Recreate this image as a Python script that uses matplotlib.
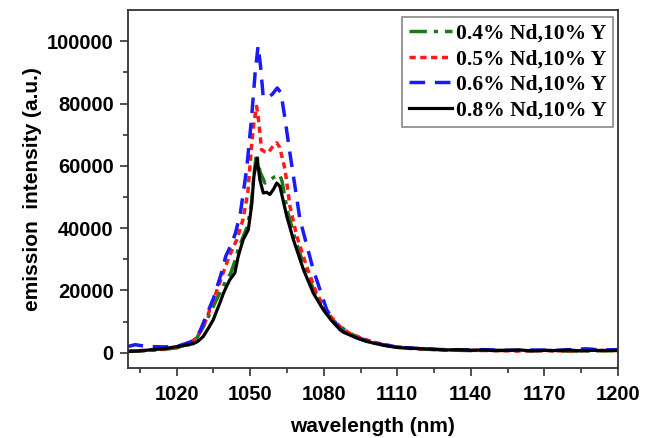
import numpy as np
import matplotlib.pyplot as plt

# wavelength (nm) and emission intensity (a.u.)
wl_04 = [1000, 1005, 1010, 1015, 1020, 1025, 1028, 1031, 1035, 1038, 1040, 1042, 1044, 1045, 1047,
         1049, 1050.5, 1051.5, 1052.5, 1054, 1056, 1058, 1060, 1062, 1063, 1065, 1068, 1072, 1077,
         1081, 1085, 1090, 1095, 1100, 1105, 1110, 1115, 1120, 1130, 1140, 1150, 1160, 1170, 1180,
         1190, 1200]
int_04 = [500, 600, 800, 1100, 1600, 2600, 4500, 8500, 15000, 20000, 23000, 25500, 30000, 33000, 37000,
          41000, 48000, 57000, 64000, 58000, 54500, 55500, 56500, 57200, 55000, 46000, 37400, 27700, 18100,
          12800, 9500, 6500, 4600, 3400, 2500, 1800, 1400, 1200, 900, 700, 800, 600, 700, 500,
          600, 700]

wl_05 = [1000, 1005, 1010, 1015, 1020, 1025, 1028, 1031, 1034, 1037.5, 1040, 1042, 1044.5, 1047,
         1049, 1050.5, 1051.5, 1052.6, 1053.5, 1054.6, 1056, 1057.3, 1059, 1060.8, 1062, 1064.2,
         1066.2, 1069, 1073, 1077, 1081, 1083, 1086.5, 1090, 1095, 1100, 1105, 1110, 1115, 1120,
         1130, 1140, 1150, 1160, 1170, 1180, 1190, 1200]
int_05 = [500, 700, 900, 1200, 1700, 2800, 4800, 8500, 14900, 22400, 28000, 32000, 36300, 42700,
          51300, 66300, 74000, 79100, 74000, 65200, 64500, 64200, 66000, 67400, 66000, 58800,
          47000, 37400, 27700, 19200, 13500, 11500, 8500, 6500, 4800, 3500, 2600, 1900, 1500, 1200,
          900, 800, 700, 600, 700, 600, 800, 700]

wl_06 = [1000, 1003, 1008, 1015, 1020, 1026, 1029.4, 1032.8, 1035, 1038, 1040, 1042.4, 1044,
         1046, 1048.5, 1050.5, 1052, 1053.2, 1054.2, 1055.3, 1057.4, 1059, 1061, 1062.5, 1064,
         1066.2, 1070.3, 1075.7, 1081.2, 1086.6, 1092, 1098, 1104, 1110, 1116, 1125, 1135, 1145,
         1155, 1165, 1175, 1183, 1187, 1193, 1200]
int_06 = [2000, 2600, 2000, 1900, 2000, 3600, 6800, 13300, 17500, 25000, 31000, 35000, 38500,
          45000, 58800, 75000, 90000, 98500, 92000, 82000, 82000, 83000, 85000, 83500, 76000,
          64000, 42700, 26700, 13800, 7400, 5200, 3600, 2600, 1800, 1500, 1100, 900, 1000,
          800, 900, 800, 1100, 1300, 900, 1000]

wl_08 = [1000, 1005, 1010, 1015, 1018.5, 1022, 1026.7, 1028.5, 1030.8, 1033, 1034.9, 1037.6,
         1039, 1040.3, 1041.7, 1043.7, 1045.1, 1047.1, 1049.2, 1050.5, 1051.5, 1052.8, 1053.9,
         1055.3, 1056.7, 1058, 1059.5, 1060.8, 1062.1, 1064.9, 1067.6, 1071.7, 1075.7, 1079.8,
         1083, 1085.3, 1088, 1092.1, 1096, 1100.2, 1105, 1110, 1113.9, 1120, 1125, 1130, 1135,
         1140, 1145, 1150, 1155, 1160, 1165, 1170, 1175, 1180, 1185, 1190, 1195, 1200]
int_08 = [400, 600, 1000, 1300, 1800, 2200, 2900, 3600, 5200, 8000, 10600, 16000, 19000, 21300,
          23500, 25600, 31000, 36300, 39500, 47000, 56700, 62500, 55600, 51300, 51500, 50800,
          52500, 54500, 53400, 43800, 36300, 26700, 19200, 13800, 10500, 8500, 6600, 5200, 4000,
          3100, 2300, 1700, 1500, 1300, 1100, 900, 1000, 800, 900, 700, 800, 900, 600, 800,
          700, 900, 600, 800, 700, 800]

labels = ['0.4% Nd,10% Y', '0.5% Nd,10% Y', '0.6% Nd,10% Y', '0.8% Nd,10% Y']

fig = plt.figure(figsize=(6.45, 4.38), dpi=100)
ax = fig.add_axes([0.198, 0.159, 0.76, 0.818])

ax.plot(wl_04, int_04, color='#1a7a1a', linestyle=(0, (5, 2, 1.2, 2)), linewidth=2.5, label=labels[0])
ax.plot(wl_05, int_05, color='#ff1a1a', linestyle=(0, (1.8, 1.3)), linewidth=2.5, label=labels[1])
ax.plot(wl_06, int_06, color='#1a1aff', linestyle=(0, (4.5, 2.8)), linewidth=2.5, label=labels[2])
ax.plot(wl_08, int_08, color='black', linestyle='-', linewidth=2.3, label=labels[3])

ax.set_xlim(1000, 1200)
ax.set_ylim(-5000, 110000)
ax.set_xticks(np.arange(1020, 1201, 30))
ax.set_xticks(np.arange(1005, 1200, 30), minor=True)
ax.set_yticks(np.arange(0, 100001, 20000))
ax.set_yticks(np.arange(10000, 110000, 20000), minor=True)

for lab in ax.get_xticklabels() + ax.get_yticklabels():
    lab.set_fontfamily('Liberation Sans')
    lab.set_fontweight('bold')
    lab.set_fontsize(14.5)
ax.tick_params(which='major', direction='out', length=6, width=1.2, color='#333333', pad=4)
ax.tick_params(axis='x', which='major', pad=6)
ax.tick_params(which='minor', direction='out', length=3.5, width=1.2, color='#333333')
for s in ax.spines.values():
    s.set_color('#333333')
    s.set_linewidth(1.3)

ax.set_xlabel('wavelength (nm)', fontfamily='Liberation Sans', fontweight='bold', fontsize=15, labelpad=9)
ax.set_ylabel('emission  intensity (a.u.)', fontfamily='Liberation Sans', fontweight='bold', fontsize=15, labelpad=4)

leg = ax.legend(loc='upper right', bbox_to_anchor=(0.99, 0.98), borderaxespad=0,
                prop={'family': 'Liberation Serif', 'weight': 'bold', 'size': 15.5},
                fancybox=False, edgecolor='#888888', framealpha=1,
                handlelength=2.0, handletextpad=0.2, labelspacing=0.25, borderpad=0.3)
leg.get_frame().set_linewidth(1.2)

fig.savefig('out.png', dpi=100)
